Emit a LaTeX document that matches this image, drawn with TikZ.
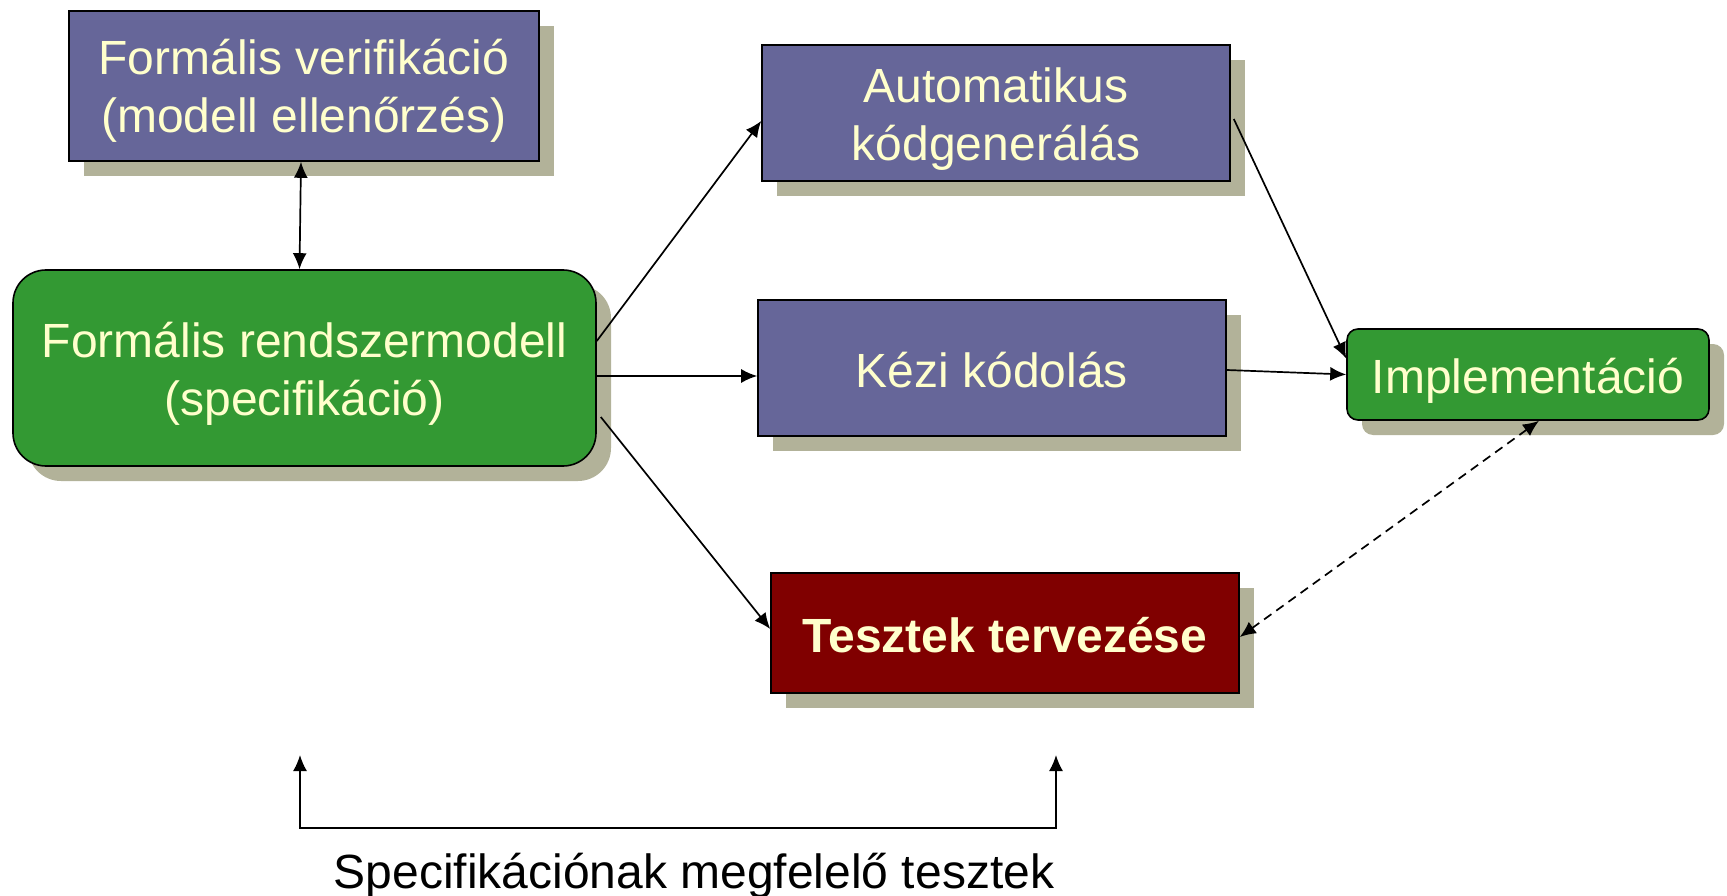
\documentclass[tikz,border=0pt]{standalone}
\usepackage{fontspec}
\setmainfont{Liberation Sans}
\usetikzlibrary{arrows.meta,shadows,calc}
\definecolor{boxpurple}{HTML}{666699}
\definecolor{boxgreen}{HTML}{339933}
\definecolor{boxred}{HTML}{800000}
\definecolor{txtyellow}{HTML}{FFFFCC}
\definecolor{shadowc}{HTML}{B2B299}
\newcommand\lowtext[2]{\raisebox{-#1}[\height][\depth]{\begin{tabular}{@{}c@{}}#2\end{tabular}}}
\begin{document}
\begin{tikzpicture}[x=1pt,y=1pt,
  shad/.style={general shadow={fill=shadowc,shadow xshift=15pt,shadow yshift=-15pt}},
  basebox/.style={draw=black,line width=1.6pt,shad,text=txtyellow,align=center,inner sep=0pt,font=\fontsize{48}{58}\selectfont},
  purplebox/.style={basebox,fill=boxpurple},
  greenbox/.style={basebox,fill=boxgreen},
  redbox/.style={basebox,fill=boxred,font=\fontsize{48}{58}\selectfont\bfseries},
  tip/.tip={Latex[length=16pt,width=14pt]},
  conn/.style={line width=1.7pt,-tip},
  biconn/.style={line width=1.7pt,tip-tip},
  ]
\useasboundingbox (0,0) rectangle (1727,-896);

\node[purplebox,minimum width=470pt,minimum height=150pt] (verif) at (304,-86)
  {\lowtext{6pt}{Formális verifikáció\\(modell ellenőrzés)}};
\node[greenbox,rounded corners=33pt,minimum width=583pt,minimum height=196pt] (spec) at (304.5,-368)
  {\lowtext{7pt}{Formális rendszermodell\\(specifikáció)}};
\node[purplebox,minimum width=468pt,minimum height=136pt] (auto) at (996,-113)
  {\lowtext{7pt}{Automatikus\\kódgenerálás}};
\node[purplebox,minimum width=468pt,minimum height=136pt] (kezi) at (992,-368)
  {\lowtext{8pt}{Kézi kódolás}};
\node[greenbox,rounded corners=11pt,minimum width=362pt,minimum height=91pt] (impl) at (1528,-374.5)
  {\lowtext{7.5pt}{Implementáció}};
\node[redbox,minimum width=468pt,minimum height=120pt] (teszt) at (1005,-633)
  {\lowtext{8pt}{Tesztek tervezése}};

\draw[biconn] ([xshift=-3pt]verif.south) -- ([xshift=-5pt]spec.north);
\draw[conn] ([yshift=27pt]spec.east) -- ([yshift=-8pt]auto.west);
\draw[conn] ([yshift=-8pt]spec.east) -- ([yshift=-8pt]kezi.west);
\draw[conn] ([xshift=4pt,yshift=-49pt]spec.east) -- ([yshift=4pt]teszt.west);
\draw[conn] ([xshift=3pt,yshift=-6pt]auto.east) -- ([yshift=16pt]impl.west);
\draw[conn] ([yshift=-2pt]kezi.east) -- (impl.west);
\draw[biconn,dash pattern=on 9pt off 6pt] ([xshift=11pt]impl.south) -- ([yshift=-4pt]teszt.east);

\coordinate (bl) at (300,-828);
\coordinate (br) at (1056,-828);
\coordinate (tl) at (300,-755);
\coordinate (tr) at (1056,-755);
\draw[biconn] (tl) -- (bl) -- (br) -- (tr);
\node[anchor=base,inner sep=0pt,font=\fontsize{48}{58}\selectfont] (lbl) at (694,-888) {Specifikációnak megfelelő tesztek};
\end{tikzpicture}
\end{document}
